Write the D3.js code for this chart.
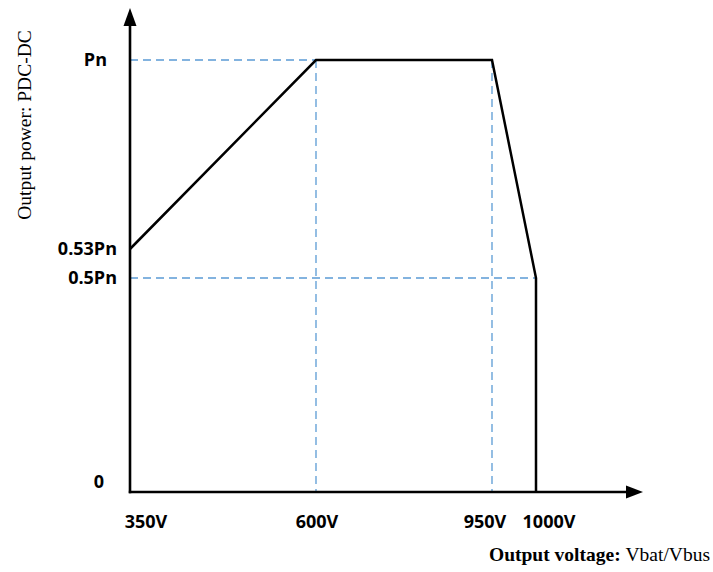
<!DOCTYPE html>
<html>
<head>
<meta charset="utf-8">
<script src="https://cdn.jsdelivr.net/npm/d3@7"></script>
<style>
  body { margin: 0; background: #fff; }
</style>
</head>
<body>
<svg width="713" height="572"></svg>
<script>
// schematic derating curve: output power vs output voltage
const voltages = [350, 600, 950, 1000]
const voltageLabels = ['350V', '600V', '950V', '1000V']
const powerLevels = [0, 0.5, 0.53, 1]
const powerLabels = ['0', '0.5Pn', '0.53Pn', 'Pn']

const curveV = [350, 600, 950, 1000, 1000]
const curveP = [0.53, 1, 1, 0.5, 0]

const svg = d3.select('svg')

// the figure is not drawn to scale, so both scales are piecewise
const xScale = d3.scaleLinear()
  .domain(voltages)
  .range([130, 316, 492, 536])

const yScale = d3.scaleLinear()
  .domain(powerLevels)
  .range([492, 278, 249, 60])

const x0 = xScale(350)
const y0 = yScale(0)
const blue = '#5b9bd5'

// dashed guide lines
const guides = [
  { x1: 350, y1: 1, x2: 600, y2: 1 },
  { x1: 350, y1: 0.5, x2: 1000, y2: 0.5 },
  { x1: 600, y1: 1, x2: 600, y2: 0 },
  { x1: 950, y1: 1, x2: 950, y2: 0 }
]
svg.append('g').selectAll('line').data(guides)
  .enter().append('line')
  .attr('x1', d => xScale(d.x1))
  .attr('y1', d => yScale(d.y1))
  .attr('x2', d => xScale(d.x2))
  .attr('y2', d => yScale(d.y2))
  .attr('stroke', blue)
  .attr('stroke-width', 1.3)
  .attr('stroke-dasharray', '8,5')

// curve
const line = d3.line()
  .x(d => xScale(d[0]))
  .y(d => yScale(d[1]))
svg.append('path')
  .datum(d3.zip(curveV, curveP))
  .attr('d', line)
  .attr('fill', 'none')
  .attr('stroke', '#000')
  .attr('stroke-width', 2.5)
  .attr('stroke-linejoin', 'miter')

// axes with arrow heads
svg.append('line')
  .attr('x1', x0).attr('y1', y0 + 1.2)
  .attr('x2', x0).attr('y2', 24)
  .attr('stroke', '#000').attr('stroke-width', 2.6)
svg.append('path')
  .attr('d', `M${x0},8 L${x0 - 6.5},26 L${x0 + 6.5},26 Z`)
  .attr('fill', '#000')

svg.append('line')
  .attr('x1', x0 - 1.2).attr('y1', y0)
  .attr('x2', 630).attr('y2', y0)
  .attr('stroke', '#000').attr('stroke-width', 2.6)
svg.append('path')
  .attr('d', `M643,${y0} L626,${y0 - 6.5} L626,${y0 + 6.5} Z`)
  .attr('fill', '#000')

// tick labels
const tickFont = '"Open Sans", sans-serif'
const yTickRight = [104, 117, 117, 107]
const yTickShift = [-4, 6, 6, 6]
svg.append('g').selectAll('text').data(powerLabels)
  .enter().append('text')
  .attr('x', (d, i) => yTickRight[i])
  .attr('y', (d, i) => yScale(powerLevels[i]) + yTickShift[i])
  .attr('text-anchor', 'end')
  .style('font-family', tickFont)
  .style('font-weight', 'bold')
  .style('font-size', '18px')
  .text(d => d)

const xTickShift = [16, 1, -7, 13]
svg.append('g').selectAll('text').data(voltageLabels)
  .enter().append('text')
  .attr('x', (d, i) => xScale(voltages[i]) + xTickShift[i])
  .attr('y', 528)
  .attr('text-anchor', 'middle')
  .style('font-family', tickFont)
  .style('font-weight', 'bold')
  .style('font-size', '18px')
  .text(d => d)

// axis titles
const titleFont = '"Liberation Serif", "Times New Roman", serif'
svg.append('text')
  .attr('transform', 'translate(31, 125) rotate(-90)')
  .attr('text-anchor', 'middle')
  .style('font-family', titleFont)
  .style('font-size', '19.5px')
  .text('Output power:  PDC-DC')

const xTitle = svg.append('text')
  .attr('x', 710)
  .attr('y', 561)
  .attr('text-anchor', 'end')
  .style('font-family', titleFont)
  .style('font-size', '19.5px')
xTitle.append('tspan').style('font-weight', 'bold').text('Output voltage: ')
xTitle.append('tspan').text('Vbat/Vbus')
</script>
</body>
</html>
